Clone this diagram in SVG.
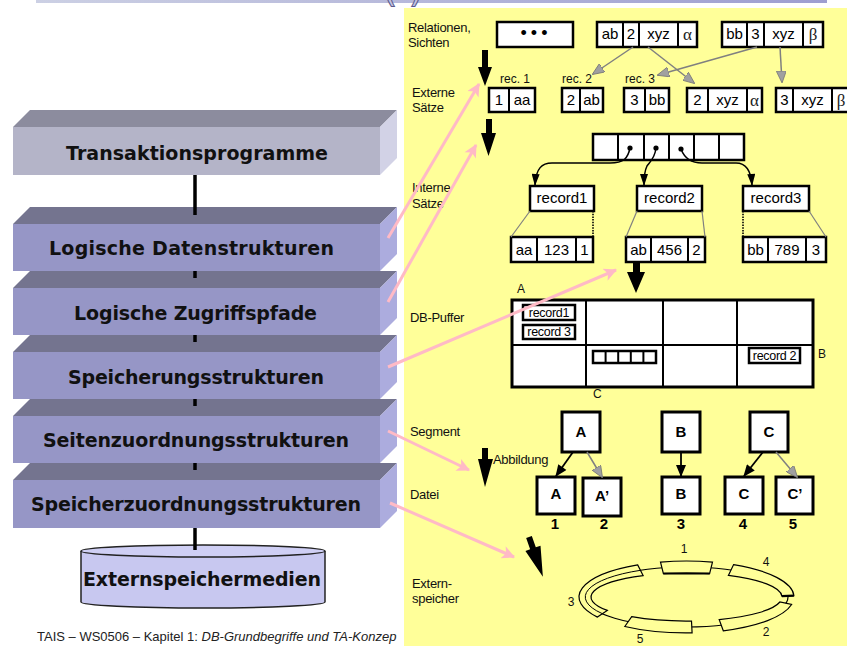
<svg xmlns="http://www.w3.org/2000/svg" width="847" height="646" viewBox="0 0 847 646">
  <defs>
    <style>
      .slab-text { font-family: "DejaVu Sans", Verdana, sans-serif; font-weight: bold; font-size: 19px; fill: #111; text-anchor: middle; }
      .lbl { font-family: "Liberation Sans", Arial, sans-serif; font-size: 13px; letter-spacing: -0.3px; fill: #111; }
      .small { font-family: "Liberation Sans", Arial, sans-serif; font-size: 12px; fill: #111; }
      .cell { font-family: "Liberation Sans", Arial, sans-serif; font-size: 15px; fill: #000; text-anchor: middle; }
      .mini { font-family: "Liberation Sans", Arial, sans-serif; font-size: 12.5px; letter-spacing: -0.3px; fill: #000; text-anchor: middle; }
      .greek { font-family: "Liberation Serif", "Times New Roman", serif; font-size: 17px; fill: #222; text-anchor: middle; }
      .box { fill: #fff; stroke: #000; stroke-width: 2.5; }
      .dv { stroke: #000; stroke-width: 2; }
      .seg { fill: #fff; stroke: #000; stroke-width: 3; }
      .segtxt { font-family: "Liberation Sans", Arial, sans-serif; font-weight: bold; font-size: 15px; fill: #000; text-anchor: middle; }
      .front1 { fill: #b4b4c8; } .top1 { fill: #8c8c9e; } .side1 { fill: #d2d2e6; }
      .front { fill: #9696c6; } .top { fill: #74748f; } .side { fill: #acacde; }
      .vline { stroke: #000; stroke-width: 3.5; }
      .gray { stroke: #808080; stroke-width: 1.5; fill: none; marker-end: url(#gh); }
      .thin { stroke: #808080; stroke-width: 1.2; fill: none; }
      .dots { stroke: #000; stroke-width: 1.6; stroke-dasharray: 1.5 1.2; fill: none; }
      .blk { stroke: #000; stroke-width: 1.8; fill: none; marker-end: url(#bh); }
      .ptr { stroke: #000; stroke-width: 1.5; fill: none; marker-end: url(#ph2); }
      .pink { stroke: #ffbac6; stroke-width: 3; fill: none; marker-end: url(#pk); }
      .big { fill: #000; }
      .ring { fill: #ffff99; stroke: #000; stroke-width: 1.2; }
    </style>
    <linearGradient id="barGrad" x1="0" y1="0" x2="1" y2="0">
      <stop offset="0" stop-color="#ccd0e4"/>
      <stop offset="1" stop-color="#9e9ed0"/>
    </linearGradient>
    <marker id="gh" viewBox="0 0 12 10" refX="11" refY="5" markerWidth="12" markerHeight="10" markerUnits="userSpaceOnUse" orient="auto">
      <path d="M0,0 L12,5 L0,10 Z" fill="#a0a0a0" stroke="#777" stroke-width="0.8"/>
    </marker>
    <marker id="bh" viewBox="0 0 12 10" refX="11" refY="5" markerWidth="13" markerHeight="10" markerUnits="userSpaceOnUse" orient="auto">
      <path d="M0,0 L12,5 L0,10 Z" fill="#000"/>
    </marker>
    <marker id="ph2" viewBox="0 0 12 8" refX="11" refY="4" markerWidth="13" markerHeight="8" markerUnits="userSpaceOnUse" orient="auto">
      <path d="M0,0 L12,4 L0,8 Z" fill="#000"/>
    </marker>
    <marker id="pk" viewBox="0 0 12 12" refX="11" refY="6" markerWidth="14" markerHeight="13" markerUnits="userSpaceOnUse" orient="auto">
      <path d="M0,0 L12,6 L0,12 L3,6 Z" fill="#ffbac6"/>
    </marker>
  </defs>

  <rect x="0" y="0" width="847" height="646" fill="#fff"/>

  <!-- heading strip -->
  <g id="heading">
    <rect x="36" y="0" width="791" height="3" fill="url(#barGrad)"/>
    <text x="382" y="1" font-family="DejaVu Sans, sans-serif" font-size="40" fill="#c4c4e2" stroke="#5a5a8c" stroke-width="1">(<tspan dx="11">)</tspan></text>
  </g>

  <!-- layer stack -->
  <g id="layer-transaktionsprogramme">
    <polygon class="top1" points="13,127 30,110 397,110 380,127"/>
    <polygon class="side1" points="380,127 397,110 397,158 380,175"/>
    <rect class="front1" x="13" y="127" width="367" height="48"/>
    <text class="slab-text" x="197" y="160" textLength="262" lengthAdjust="spacing">Transaktionsprogramme</text>
  </g>
  <g id="layer-logische-datenstrukturen">
    <polygon class="top" points="13,224 30,207 397,207 380,224"/>
    <polygon class="side" points="380,224 397,207 397,254 380,271"/>
    <rect class="front" x="13" y="224" width="367" height="47"/>
    <text class="slab-text" x="191.5" y="255" textLength="285" lengthAdjust="spacing">Logische Datenstrukturen</text>
  </g>
  <g id="layer-logische-zugriffspfade">
    <polygon class="top" points="13,288 30,271 397,271 380,288"/>
    <polygon class="side" points="380,288 397,271 397,318 380,335"/>
    <rect class="front" x="13" y="288" width="367" height="47"/>
    <text class="slab-text" x="195.5" y="320" textLength="243" lengthAdjust="spacing">Logische Zugriffspfade</text>
  </g>
  <g id="layer-speicherungsstrukturen">
    <polygon class="top" points="13,352 30,335 397,335 380,352"/>
    <polygon class="side" points="380,352 397,335 397,382 380,399"/>
    <rect class="front" x="13" y="352" width="367" height="47"/>
    <text class="slab-text" x="196" y="384" textLength="256" lengthAdjust="spacing">Speicherungsstrukturen</text>
  </g>
  <g id="layer-seitenzuordnungsstrukturen">
    <polygon class="top" points="13,416 30,399 397,399 380,416"/>
    <polygon class="side" points="380,416 397,399 397,446 380,463"/>
    <rect class="front" x="13" y="416" width="367" height="47"/>
    <text class="slab-text" x="196" y="447" textLength="306" lengthAdjust="spacing">Seitenzuordnungsstrukturen</text>
  </g>
  <g id="layer-speicherzuordnungsstrukturen">
    <polygon class="top" points="13,480 30,463 397,463 380,480"/>
    <polygon class="side" points="380,480 397,463 397,511 380,528"/>
    <rect class="front" x="13" y="480" width="367" height="48"/>
    <text class="slab-text" x="196" y="511" textLength="330" lengthAdjust="spacing">Speicherzuordnungsstrukturen</text>
  </g>
  <g id="externspeichermedien">
    <path d="M81,551 L81,602 A122,6 0 0 0 325,602 L325,551" fill="#c8c8f0" stroke="#222" stroke-width="1.5"/>
    <ellipse cx="203" cy="551" rx="122" ry="6" fill="#cfcff4" stroke="#222" stroke-width="1.5"/>
    <text class="slab-text" x="202" y="586" font-size="20" textLength="238" lengthAdjust="spacing">Externspeichermedien</text>
  </g>

  <!-- footer line -->
  <text x="37" y="641" font-family="Liberation Sans, Arial, sans-serif" font-size="13" fill="#222">TAIS – WS0506 – Kapitel 1: <tspan font-style="italic">DB-Grundbegriffe und TA-Konzep</tspan></text>

  <!-- right-hand panel -->
  <rect id="panel" x="404" y="8" width="443" height="638" fill="#ffff99"/>

  <g id="level-labels">
    <text class="lbl" x="408" y="32">Relationen,</text>
    <text class="lbl" x="408" y="47">Sichten</text>
    <text class="lbl" x="412" y="97">Externe</text>
    <text class="lbl" x="412" y="112">Sätze</text>
    <text class="lbl" x="412" y="192">Interne</text>
    <text class="lbl" x="412" y="208">Sätze</text>
    <text class="lbl" x="410" y="322">DB-Puffer</text>
    <text class="lbl" x="410" y="436">Segment</text>
    <text class="lbl" x="493" y="464">Abbildung</text>
    <text class="lbl" x="410" y="499">Datei</text>
    <text class="lbl" x="412" y="588">Extern-</text>
    <text class="lbl" x="412" y="603">speicher</text>
  </g>

  <!-- relations / views -->
  <g id="relation-dots">
    <rect class="box" x="497" y="22" width="76" height="25"/>
    <text x="536" y="39" text-anchor="middle" font-family="Liberation Sans, Arial, sans-serif" font-size="18" letter-spacing="4">•••</text>
  </g>
  <g id="relation-ab">
    <rect class="box" x="597" y="22" width="100" height="25"/>
    <line class="dv" x1="623" y1="22" x2="623" y2="47"/>
    <line class="dv" x1="639" y1="22" x2="639" y2="47"/>
    <line class="dv" x1="678" y1="22" x2="678" y2="47"/>
    <text class="cell" x="610" y="39">ab</text>
    <text class="cell" x="631" y="39">2</text>
    <text class="cell" x="658.5" y="39">xyz</text>
    <text class="greek" x="687.5" y="40">α</text>
  </g>
  <g id="relation-bb">
    <rect class="box" x="722" y="22" width="101" height="25"/>
    <line class="dv" x1="747" y1="22" x2="747" y2="47"/>
    <line class="dv" x1="764" y1="22" x2="764" y2="47"/>
    <line class="dv" x1="803" y1="22" x2="803" y2="47"/>
    <text class="cell" x="734.5" y="39">bb</text>
    <text class="cell" x="755.5" y="39">3</text>
    <text class="cell" x="783.5" y="39">xyz</text>
    <text class="greek" x="813" y="40">β</text>
  </g>

  <!-- external records -->
  <g id="rec1">
    <text class="small" x="500" y="83" font-size="13">rec. 1</text>
    <rect class="box" x="489" y="88" width="46" height="24"/>
    <line class="dv" x1="509" y1="88" x2="509" y2="112"/>
    <text class="cell" x="499" y="105">1</text>
    <text class="cell" x="522" y="105">aa</text>
  </g>
  <g id="rec2">
    <text class="small" x="562" y="83" font-size="13">rec. 2</text>
    <rect class="box" x="562" y="88" width="41" height="24"/>
    <line class="dv" x1="580" y1="88" x2="580" y2="112"/>
    <text class="cell" x="571" y="105">2</text>
    <text class="cell" x="591.5" y="105">ab</text>
  </g>
  <g id="rec3">
    <text class="small" x="625" y="83" font-size="13">rec. 3</text>
    <rect class="box" x="624" y="88" width="45" height="24"/>
    <line class="dv" x1="645" y1="88" x2="645" y2="112"/>
    <text class="cell" x="634.5" y="105">3</text>
    <text class="cell" x="657" y="105">bb</text>
  </g>
  <g id="rec-2xyz">
    <rect class="box" x="687" y="88" width="75" height="24"/>
    <line class="dv" x1="708" y1="88" x2="708" y2="112"/>
    <line class="dv" x1="747" y1="88" x2="747" y2="112"/>
    <text class="cell" x="697.5" y="105">2</text>
    <text class="cell" x="727.5" y="105">xyz</text>
    <text class="greek" x="754.5" y="106">α</text>
  </g>
  <g id="rec-3xyz">
    <rect class="box" x="776" y="88" width="84" height="24"/>
    <line class="dv" x1="793" y1="88" x2="793" y2="112"/>
    <line class="dv" x1="832" y1="88" x2="832" y2="112"/>
    <text class="cell" x="784.5" y="105">3</text>
    <text class="cell" x="812.5" y="105">xyz</text>
    <text class="greek" x="841" y="106">β</text>
  </g>

  <!-- internal records -->
  <g id="pointer-array">
    <rect class="box" x="593" y="134" width="151" height="26"/>
    <line class="dv" x1="618" y1="134" x2="618" y2="160"/>
    <line class="dv" x1="644" y1="134" x2="644" y2="160"/>
    <line class="dv" x1="669" y1="134" x2="669" y2="160"/>
    <line class="dv" x1="694" y1="134" x2="694" y2="160"/>
    <line class="dv" x1="719" y1="134" x2="719" y2="160"/>
    <circle cx="630" cy="148" r="2.6" fill="#000"/>
    <circle cx="656" cy="148" r="2.6" fill="#000"/>
    <circle cx="681" cy="149" r="2.6" fill="#000"/>
  </g>
  <g id="record1">
    <rect class="box" x="530" y="186" width="64" height="25"/>
    <text class="cell" x="562" y="203">record1</text>
  </g>
  <g id="record2">
    <rect class="box" x="637" y="186" width="65" height="25"/>
    <text class="cell" x="669.5" y="203">record2</text>
  </g>
  <g id="record3">
    <rect class="box" x="743" y="186" width="66" height="25"/>
    <text class="cell" x="776" y="203">record3</text>
  </g>
  <g id="fields1">
    <rect class="box" x="511" y="237" width="82" height="25"/>
    <line class="dv" x1="537" y1="237" x2="537" y2="262"/>
    <line class="dv" x1="576" y1="237" x2="576" y2="262"/>
    <text class="cell" x="524" y="255">aa</text>
    <text class="cell" x="556.5" y="255">123</text>
    <text class="cell" x="584.5" y="255">1</text>
  </g>
  <g id="fields2">
    <rect class="box" x="626" y="237" width="79" height="25"/>
    <line class="dv" x1="651" y1="237" x2="651" y2="262"/>
    <line class="dv" x1="688" y1="237" x2="688" y2="262"/>
    <text class="cell" x="638.5" y="255">ab</text>
    <text class="cell" x="669.5" y="255">456</text>
    <text class="cell" x="696.5" y="255">2</text>
  </g>
  <g id="fields3">
    <rect class="box" x="743" y="237" width="83" height="25"/>
    <line class="dv" x1="768" y1="237" x2="768" y2="262"/>
    <line class="dv" x1="806" y1="237" x2="806" y2="262"/>
    <text class="cell" x="755.5" y="255">bb</text>
    <text class="cell" x="787" y="255">789</text>
    <text class="cell" x="816" y="255">3</text>
  </g>

  <!-- database buffer -->
  <g id="db-puffer">
    <rect x="512" y="300" width="301" height="87" fill="#fff" stroke="#000" stroke-width="3"/>
    <line class="dv" x1="586" y1="300" x2="586" y2="387" stroke-width="3"/>
    <line class="dv" x1="663" y1="300" x2="663" y2="387" stroke-width="3"/>
    <line class="dv" x1="737" y1="300" x2="737" y2="387" stroke-width="3"/>
    <line class="dv" x1="512" y1="345" x2="813" y2="345" stroke-width="3"/>
    <text class="small" x="517" y="293" font-size="11">A</text>
    <text class="small" x="818" y="358" font-size="11">B</text>
    <text class="small" x="593" y="398" font-size="11">C</text>
    <rect class="box" x="523" y="305" width="52" height="15"/>
    <text class="mini" x="549" y="317">record1</text>
    <rect class="box" x="523" y="325" width="52" height="14"/>
    <text class="mini" x="549" y="336">record 3</text>
    <rect class="box" x="593" y="351" width="63" height="12"/>
    <line class="dv" x1="605.6" y1="351" x2="605.6" y2="363"/>
    <line class="dv" x1="618.2" y1="351" x2="618.2" y2="363"/>
    <line class="dv" x1="630.8" y1="351" x2="630.8" y2="363"/>
    <line class="dv" x1="643.4" y1="351" x2="643.4" y2="363"/>
    <rect class="box" x="749" y="348" width="51" height="15"/>
    <text class="mini" x="774.5" y="360">record 2</text>
  </g>

  <!-- segments and files -->
  <g id="segment-a"><rect class="seg" x="562" y="412" width="38" height="40"/><text class="segtxt" x="581" y="437">A</text></g>
  <g id="segment-b"><rect class="seg" x="662" y="412" width="38" height="40"/><text class="segtxt" x="681" y="437">B</text></g>
  <g id="segment-c"><rect class="seg" x="750" y="412" width="38" height="40"/><text class="segtxt" x="769" y="437">C</text></g>
  <g id="file-1"><rect class="seg" x="537" y="477" width="38" height="37"/><text class="segtxt" x="556" y="499">A</text><text class="segtxt" x="555" y="529">1</text></g>
  <g id="file-2"><rect class="seg" x="583" y="478" width="38" height="38"/><text class="segtxt" x="602" y="501">A’</text><text class="segtxt" x="604" y="529">2</text></g>
  <g id="file-3"><rect class="seg" x="662" y="477" width="38" height="37"/><text class="segtxt" x="681" y="499">B</text><text class="segtxt" x="681" y="529">3</text></g>
  <g id="file-4"><rect class="seg" x="725" y="477" width="38" height="37"/><text class="segtxt" x="744" y="499">C</text><text class="segtxt" x="743" y="529">4</text></g>
  <g id="file-5"><rect class="seg" x="776" y="477" width="37" height="37"/><text class="segtxt" x="795" y="499">C’</text><text class="segtxt" x="793" y="529">5</text></g>

  <!-- external storage ring -->
  <g id="ring">
    <ellipse cx="686.5" cy="597" rx="101.5" ry="30" fill="none" stroke="#000" stroke-width="1.2"/>
    <path class="ring" d="M660.5,562.1 A107.5,36 0 0 1 712.5,562.1 L709.6,573.7 A95.5,24 0 0 0 663.4,573.7 Z"/>
    <line x1="663.4" y1="573.5" x2="709.6" y2="573.5" stroke="#000" stroke-width="2.2"/>
    <path class="ring" d="M733.6,564.6 A107.5,36 0 0 1 793.9,595.7 L781.9,596.2 A95.5,24 0 0 0 728.4,575.4 Z"/>
    <line x1="781.9" y1="596.2" x2="793.9" y2="595.7" stroke="#000" stroke-width="2.2"/>
    <path class="ring" d="M791.6,604.5 A107.5,36 0 0 1 723.3,630.8 L719.2,619.6 A95.5,24 0 0 0 779.9,602 Z"/>
    <path class="ring" d="M692.1,632.9 A107.5,36 0 0 1 624.8,626.5 L631.7,616.7 A95.5,24 0 0 0 691.5,621 Z"/>
    <path class="ring" d="M597.4,617.1 A107.5,36 0 0 1 637.7,564.9 L643.1,575.6 A95.5,24 0 0 0 607.3,610.4 Z"/>
    <path d="M602,613.5 A101.5,30 0 0 1 640.5,570.3" fill="none" stroke="#000" stroke-width="1"/>
    <text class="small" x="684" y="553" text-anchor="middle">1</text>
    <text class="small" x="766" y="566" text-anchor="middle">4</text>
    <text class="small" x="766" y="636" text-anchor="middle">2</text>
    <text class="small" x="640" y="643" text-anchor="middle">5</text>
    <text class="small" x="571" y="606" text-anchor="middle">3</text>
  </g>

  <!-- connectors -->
  <g id="connectors">
    <!-- layer stack links -->
    <line class="vline" x1="195" y1="175" x2="195" y2="215"/>
    <line class="vline" x1="195" y1="271" x2="195" y2="278"/>
    <line class="vline" x1="195" y1="335" x2="195" y2="342"/>
    <line class="vline" x1="195" y1="399" x2="195" y2="406"/>
    <line class="vline" x1="195" y1="463" x2="195" y2="470"/>
    <line class="vline" x1="195" y1="528" x2="195" y2="550"/>

    <!-- level transitions -->
    <polygon class="big" points="482,50 488,50 488,67 492,67 485,86 478,67 482,67"/>
    <polygon class="big" points="486,119 492,119 492,133 496,133 488.5,156 481,133 486,133"/>
    <polygon class="big" points="633,262 640,262 640,272 645,272 636,293 627,272 633,272"/>
    <polygon class="big" points="482,448 488,448 488,459 493,459 485,487 478,459 482,459"/>
    <polygon class="big" transform="translate(529,537) rotate(-19.3)" points="-3,0 3,0 3,12 8,12 0,42 -8,12 -3,12"/>

    <!-- views to external records -->
    <path class="gray" d="M633,47 L593,74"/>
    <path class="gray" d="M648,47 L694,83"/>
    <path class="gray" d="M757,47 L658,75"/>
    <path class="gray" d="M780,47 L782,82"/>

    <!-- pointer array to internal records -->
    <path class="ptr" d="M630,148 C628,158 624,163 610,163 L552,163 C542,163 536,168 535,185"/>
    <path class="ptr" d="M656,148 C655,158 650,162 647,166 C645,170 644,175 644,185"/>
    <path class="ptr" d="M681,149 C684,157 690,163 702,163 L736,163 C746,163 751,170 752,185"/>

    <!-- internal records to fields -->
    <line class="thin" x1="530" y1="211" x2="511" y2="237"/>
    <line class="dots" x1="593" y1="211" x2="593" y2="237"/>
    <line class="thin" x1="637" y1="211" x2="626" y2="237"/>
    <line class="thin" x1="702" y1="211" x2="705" y2="237"/>
    <line class="dots" x1="743" y1="211" x2="743" y2="237"/>
    <line class="thin" x1="809" y1="211" x2="826" y2="237"/>

    <!-- segments to files -->
    <path class="blk" d="M573,452 L556,476"/>
    <path class="gray" d="M587,452 L602,477"/>
    <path class="blk" d="M681,452 L681,476"/>
    <path class="blk" d="M763,452 L744,476"/>
    <path class="gray" d="M776,452 L797,477"/>

    <!-- layer to level mapping -->
    <path class="pink" d="M388,238 L479,84"/>
    <path class="pink" d="M388,302 L476,145"/>
    <path class="pink" d="M388,367 L616,270"/>
    <path class="pink" d="M388,431 L469,470"/>
    <path class="pink" d="M390,503 L514,557"/>
  </g>
</svg>
